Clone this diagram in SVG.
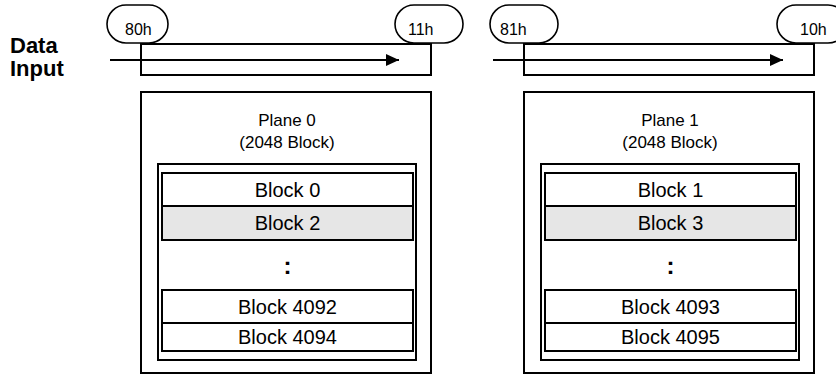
<svg xmlns="http://www.w3.org/2000/svg" width="836" height="375" viewBox="0 0 836 375">
<defs>
<style>
.ln{fill:none;stroke:#000;stroke-width:2}
.pill{fill:#fff;stroke:#000;stroke-width:1.6}
.t{font-family:"Liberation Sans",Arial,sans-serif;fill:#000}
.pt{font-size:16px}
.pl{font-size:17px;text-anchor:middle}
.bt{font-size:20px;text-anchor:middle}
.dots{font-size:24px;font-weight:bold;text-anchor:middle}
.row{fill:#fff;stroke:#000;stroke-width:2}
.grey{fill:#e6e6e6;stroke:#000;stroke-width:2}
.lbl{font-size:22px;font-weight:bold}
</style>
<marker id="ah" markerWidth="14" markerHeight="12" refX="13" refY="6" orient="auto" markerUnits="userSpaceOnUse">
<path d="M0,0 L13,6 L0,12 Z" fill="#000"/>
</marker>
</defs>
<rect width="836" height="375" fill="#fff"/>

<g id="data-input-label">
<text class="t lbl" x="10" y="53">Data</text>
<text class="t lbl" x="10" y="76">Input</text>
</g>

<g id="cmd-80h">
<rect class="pill" x="107" y="5" width="61" height="38" rx="19"/>
<text class="t pt" x="125" y="35">80h</text>
</g>
<g id="cmd-11h">
<rect class="pill" x="395" y="5" width="68" height="38" rx="19"/>
<text class="t pt" x="408" y="35">11h</text>
</g>
<g id="cmd-81h">
<rect class="pill" x="490" y="5" width="68" height="38" rx="19"/>
<text class="t pt" x="500" y="35">81h</text>
</g>
<g id="cmd-10h">
<rect class="pill" x="777" y="5" width="70" height="38" rx="19"/>
<text class="t pt" x="800" y="35">10h</text>
</g>

<g id="input-window-0">
<rect class="ln" x="141" y="44" width="290" height="31"/>
</g>
<g id="input-window-1">
<rect class="ln" x="524" y="44" width="290" height="31"/>
</g>

<g id="connectors">
<line class="ln" x1="110" y1="60" x2="399" y2="60" marker-end="url(#ah)"/>
<line class="ln" x1="493" y1="60" x2="783" y2="60" marker-end="url(#ah)"/>
</g>

<g id="plane-0">
<rect class="ln" x="141" y="92" width="290" height="281"/>
<text class="t pl" x="287" y="126">Plane 0</text>
<text class="t pl" x="287" y="148">(2048 Block)</text>
<rect class="ln" x="158" y="164" width="258" height="196"/>
<rect class="row" x="162" y="173" width="251" height="33"/>
<text class="t bt" x="287.5" y="197">Block 0</text>
<rect class="grey" x="162" y="206" width="251" height="34"/>
<text class="t bt" x="287.5" y="230">Block 2</text>
<text class="t dots" x="287.5" y="274">:</text>
<rect class="row" x="162" y="290" width="251" height="33"/>
<text class="t bt" x="287.5" y="314">Block 4092</text>
<rect class="row" x="162" y="323" width="251" height="28"/>
<text class="t bt" x="287.5" y="344">Block 4094</text>
</g>

<g id="plane-1">
<rect class="ln" x="524" y="92" width="290" height="281"/>
<text class="t pl" x="670" y="126">Plane 1</text>
<text class="t pl" x="670" y="148">(2048 Block)</text>
<rect class="ln" x="541" y="164" width="258" height="196"/>
<rect class="row" x="545" y="173" width="251" height="33"/>
<text class="t bt" x="670.5" y="197">Block 1</text>
<rect class="grey" x="545" y="206" width="251" height="34"/>
<text class="t bt" x="670.5" y="230">Block 3</text>
<text class="t dots" x="670.5" y="274">:</text>
<rect class="row" x="545" y="290" width="251" height="33"/>
<text class="t bt" x="670.5" y="314">Block 4093</text>
<rect class="row" x="545" y="323" width="251" height="28"/>
<text class="t bt" x="670.5" y="344">Block 4095</text>
</g>
</svg>
